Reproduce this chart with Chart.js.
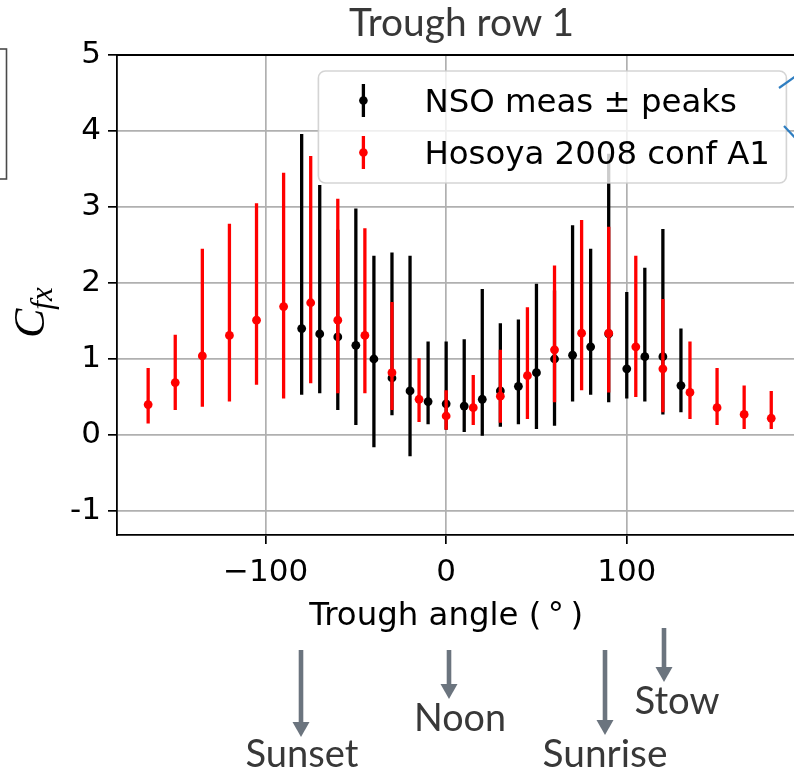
<!DOCTYPE html>
<html><head><meta charset="utf-8">
<script src="https://cdn.jsdelivr.net/npm/chart.js@4.4.1/dist/chart.umd.min.js"></script>
<style>
html,body{margin:0;padding:0;width:794px;height:770px;overflow:hidden;background:#fff;}
#wrap{position:relative;width:794px;height:770px;overflow:hidden;}
#c{position:absolute;left:0;top:0;}
#ov{position:absolute;left:0;top:0;}
.ann{font-family:Lato,"Open Sans",sans-serif;fill:#383838;}
</style></head><body>
<div id="wrap">
<canvas id="c" width="830" height="770"></canvas>
<svg id="ov" width="794" height="770" viewBox="0 0 794 770">
  <rect x="-6" y="49" width="12.5" height="130" fill="none" stroke="#4a4a4a" stroke-width="1.6"/>
  <line x1="779" y1="88" x2="800" y2="73" stroke="#2f7ec1" stroke-width="2.2"/>
  <line x1="784" y1="126" x2="800" y2="143" stroke="#2f7ec1" stroke-width="2.2"/>
  <text class="ann" x="461.5" y="36" text-anchor="middle" data-w="225">Trough row 1</text>
  <g fill="#6b747e" stroke="#6b747e">
    <line x1="301" y1="650" x2="301" y2="723" stroke-width="4.6"/>
    <polygon points="292.5,722 309.5,722 301,737" stroke="none"/>
    <line x1="449" y1="650" x2="449" y2="685" stroke-width="4.6"/>
    <polygon points="440.5,684 457.5,684 449,699" stroke="none"/>
    <line x1="605" y1="650" x2="605" y2="721" stroke-width="4.6"/>
    <polygon points="596.5,720 613.5,720 605,735" stroke="none"/>
    <line x1="664" y1="628" x2="664" y2="668" stroke-width="4.6"/>
    <polygon points="655.5,667 672.5,667 664,682" stroke="none"/>
  </g>
  <text class="ann" x="302" y="767" text-anchor="middle" data-w="113">Sunset</text>
  <text class="ann" x="460" y="731" text-anchor="middle" data-w="92">Noon</text>
  <text class="ann" x="605" y="767" text-anchor="middle" data-w="125">Sunrise</text>
  <text class="ann" x="677" y="714" text-anchor="middle" data-w="85">Stow</text>
</svg>
</div>
<script>
// ---- data ----
const redX  = [-165,-150,-135,-120,-105,-90,-75,-60,-45,-30,-15,0,15,30,45,60,75,90,105,120,135,150,165,180];
const redY  = [0.40,0.69,1.04,1.31,1.51,1.69,1.74,1.51,1.31,0.82,0.47,0.25,0.36,0.51,0.78,1.12,1.34,1.34,1.16,0.87,0.56,0.36,0.27,0.22];
const redLo = [0.15,0.33,0.37,0.44,0.66,0.48,0.68,0.55,0.55,0.33,0.17,0.07,0.13,0.16,0.21,0.43,0.59,0.56,0.50,0.30,0.21,0.13,0.08,0.08];
const redHi = [0.88,1.32,2.45,2.78,3.05,3.45,3.67,3.11,2.72,1.75,1.01,0.59,0.79,1.12,1.68,2.23,2.83,2.74,2.36,1.79,1.23,0.88,0.65,0.58];

const blackX  = [-80,-70,-60,-50,-40,-30,-20,-10,0,10,20,30,40,50,60,70,80,90,100,110,120,130];
const blackY  = [1.40,1.33,1.29,1.18,1.00,0.75,0.58,0.44,0.41,0.38,0.47,0.58,0.64,0.82,1.00,1.05,1.16,1.33,0.87,1.03,1.03,0.65];
const blackLo = [0.53,0.55,0.33,0.13,-0.16,0.26,-0.28,0.14,0.07,0.04,-0.01,0.11,0.14,0.08,0.12,0.44,0.53,0.43,0.48,0.44,0.27,0.30];
const blackHi = [3.96,3.29,2.70,2.98,2.36,2.40,2.36,1.23,1.23,1.26,1.92,1.47,1.52,1.99,1.90,2.76,2.45,3.70,1.88,2.20,2.71,1.40];

const xTicks = [-100,0,100];
const xTickLabels = ['\u2212100','0','100'];
const yTicks = [-1,0,1,2,3,4,5];
const yTickLabels = ['-1','0','1','2','3','4','5'];

const seriesNames = ['NSO meas \u00b1 peaks','Hosoya 2008 conf A1'];
const xTitle = 'Trough angle (\u2009\u00b0\u2009)';

// fit annotation text widths
document.querySelectorAll('#ov text[data-w]').forEach(t=>{
  t.setAttribute('font-size','40');
  const w = t.getComputedTextLength();
  t.setAttribute('font-size', (40*parseFloat(t.dataset.w)/w).toFixed(2));
});

function bars(xs, lo, hi){
  const out=[];
  for(let i=0;i<xs.length;i++){ out.push({x:xs[i],y:lo[i]},{x:xs[i],y:hi[i]},{x:xs[i],y:null}); }
  return out;
}
function pts(xs, ys){ return xs.map((x,i)=>({x:x,y:ys[i]})); }

const FONT = 'DejaVu Sans';
const FS_TICK = 31;
const FS_TEXT = 32.4;

const extras = {
  id:'extras',
  afterDatasetsDraw(chart){
    const {ctx, chartArea:a} = chart;
    ctx.save();
    // top & right spines
    ctx.strokeStyle='#000'; ctx.lineWidth=1.8;
    ctx.beginPath(); ctx.moveTo(a.left,a.top); ctx.lineTo(a.right,a.top); ctx.lineTo(a.right,a.bottom); ctx.stroke();
    // legend
    const lw=468, lh=112, lx=a.right-16-lw, ly=a.top+16;
    ctx.beginPath(); ctx.roundRect(lx,ly,lw,lh,7);
    ctx.fillStyle='rgba(255,255,255,0.8)'; ctx.fill();
    ctx.strokeStyle='rgba(204,204,204,0.85)'; ctx.lineWidth=1.6; ctx.stroke();
    const rows=[{c:'#000000',cy:ly+29.5,t:seriesNames[0]},{c:'#ff0000',cy:ly+81.5,t:seriesNames[1]}];
    rows.forEach(r=>{
      const hx=lx+45;
      ctx.strokeStyle=r.c; ctx.lineWidth=3.3; ctx.lineCap='butt';
      ctx.beginPath(); ctx.moveTo(hx,r.cy-16.5); ctx.lineTo(hx,r.cy+16.5); ctx.stroke();
      ctx.fillStyle=r.c; ctx.beginPath(); ctx.arc(hx,r.cy,4.3,0,Math.PI*2); ctx.fill();
      ctx.fillStyle='#000'; ctx.font=FS_TEXT+'px "'+FONT+'"'; ctx.textAlign='left'; ctx.textBaseline='alphabetic';
      ctx.fillText(r.t, lx+106, r.cy+11.5);
    });
    ctx.restore();
  },
  afterDraw(chart){
    const {ctx, scales:{x}} = chart;
    ctx.save();
    ctx.fillStyle='#000';
    ctx.font=FS_TEXT+'px "'+FONT+'"'; ctx.textAlign='center'; ctx.textBaseline='alphabetic';
    ctx.fillText(xTitle, x.getPixelForValue(0), 625);
    // y title C_fx (rotated, math italic)
    ctx.translate(44,338); ctx.rotate(-Math.PI/2);
    ctx.textAlign='left';
    ctx.font='italic 44px "Liberation Serif"';
    ctx.fillText('C',0,0);
    const w=ctx.measureText('C').width;
    ctx.font='italic 31px "Liberation Serif"';
    ctx.fillText('fx', w-1, 8);
    ctx.restore();
  }
};

const tickFont = {family:FONT, size:FS_TICK};

new Chart(document.getElementById('c').getContext('2d'), {
  type:'scatter',
  data:{datasets:[
    {label:seriesNames[1], data:pts(redX,redY), order:0, pointRadius:4.4, pointHoverRadius:4.4, pointBackgroundColor:'#ff0000', pointBorderWidth:0, showLine:false},
    {label:seriesNames[1]+' bars', data:bars(redX,redLo,redHi), order:1, showLine:true, spanGaps:false, borderColor:'#ff0000', borderWidth:3.3, borderCapStyle:'butt', pointRadius:0, pointHoverRadius:0, tension:0},
    {label:seriesNames[0], data:pts(blackX,blackY), order:2, pointRadius:4.4, pointHoverRadius:4.4, pointBackgroundColor:'#000000', pointBorderWidth:0, showLine:false},
    {label:seriesNames[0]+' bars', data:bars(blackX,blackLo,blackHi), order:3, showLine:true, spanGaps:false, borderColor:'#000000', borderWidth:3.3, borderCapStyle:'butt', pointRadius:0, pointHoverRadius:0, tension:0}
  ]},
  options:{
    responsive:false, animation:false, devicePixelRatio:1,
    layout:{padding:{top:55,right:27.6,left:0,bottom:0}},
    plugins:{legend:{display:false}, tooltip:{enabled:false}, title:{display:false}},
    events:[],
    scales:{
      x:{type:'linear', min:-182.25, max:197.25,
        afterFit(s){ s.height=235; },
        afterBuildTicks(s){ s.ticks = xTicks.map(v=>({value:v})); },
        ticks:{font:tickFont, color:'#000', padding:10, maxRotation:0, autoSkip:false,
          callback:(v)=>{ const i=xTicks.indexOf(v); return i>=0?xTickLabels[i]:''; }},
        grid:{color:'#b0b0b0', lineWidth:1.7, tickLength:9, tickColor:'#000', tickWidth:1.7},
        border:{display:true, color:'#000', width:1.8}},
      y:{type:'linear', min:-1.316, max:5,
        afterFit(s){ s.width=117; },
        afterBuildTicks(s){ s.ticks = yTicks.map(v=>({value:v})); },
        ticks:{font:tickFont, color:'#000', padding:7, autoSkip:false,
          callback:(v)=>{ const i=yTicks.indexOf(v); return i>=0?yTickLabels[i]:''; }},
        grid:{color:'#b0b0b0', lineWidth:1.7, tickLength:9, tickColor:'#000', tickWidth:1.7},
        border:{display:true, color:'#000', width:1.8}}
    }
  },
  plugins:[extras]
});
</script>
</body></html>
